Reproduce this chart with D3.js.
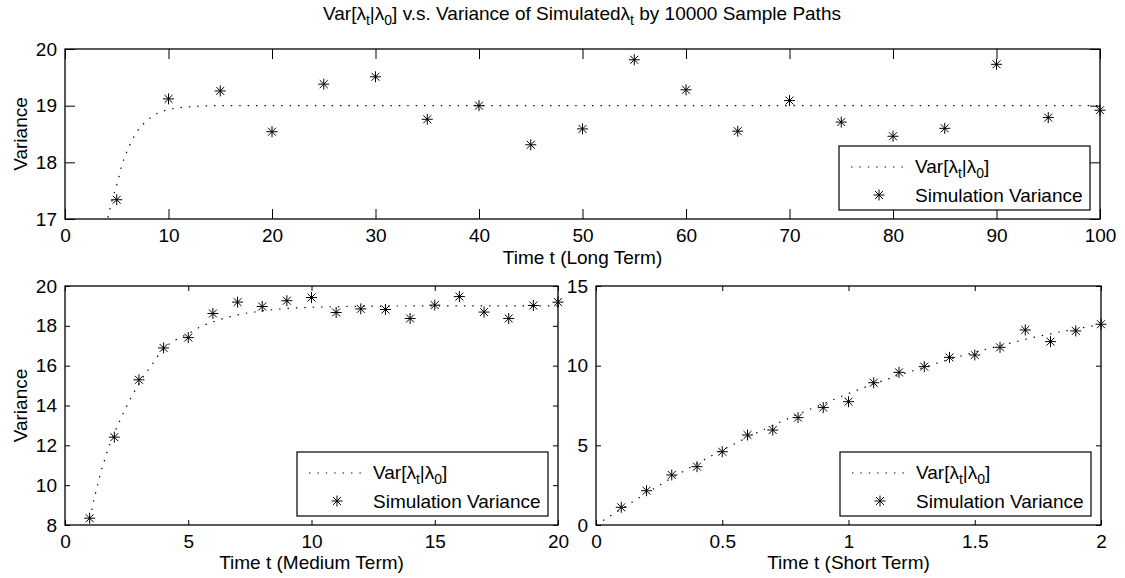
<!DOCTYPE html>
<html>
<head>
<meta charset="utf-8">
<script src="https://cdn.jsdelivr.net/npm/d3@7"></script>
<style>
  body { margin: 0; background: #fff; }
  text { font-family: "Liberation Sans", Arial, Helvetica, sans-serif; fill: #000; }
</style>
</head>
<body>
<div id="chart"></div>
<script>
// simulated variance (stars)
var longT = [5, 10, 15, 20, 25, 30, 35, 40, 45, 50, 55, 60, 65, 70, 75, 80, 85, 90, 95, 100];
var longSim = [17.34, 19.12, 19.26, 18.54, 19.38, 19.51, 18.76, 19.0, 18.31, 18.59,
               19.81, 19.28, 18.55, 19.09, 18.71, 18.46, 18.6, 19.73, 18.79, 18.92];

var midT = [1, 2, 3, 4, 5, 6, 7, 8, 9, 10, 11, 12, 13, 14, 15, 16, 17, 18, 19, 20];
var midSim = [8.34, 12.41, 15.29, 16.89, 17.41, 18.62, 19.19, 18.97, 19.26, 19.42,
              18.67, 18.85, 18.82, 18.37, 19.04, 19.47, 18.69, 18.37, 19.02, 19.19];

var shortT = [0.1, 0.2, 0.3, 0.4, 0.5, 0.6, 0.7, 0.8, 0.9, 1.0,
              1.1, 1.2, 1.3, 1.4, 1.5, 1.6, 1.7, 1.8, 1.9, 2.0];
var shortSim = [1.11, 2.15, 3.14, 3.66, 4.60, 5.65, 5.96, 6.74, 7.37, 7.74,
                8.93, 9.58, 9.94, 10.52, 10.67, 11.15, 12.24, 11.51, 12.18, 12.6];

// theoretical Var[lambda_t | lambda_0] (dotted curve)
var curveT = [0, 0.1, 0.2, 0.3, 0.4, 0.5, 0.6, 0.7, 0.8, 0.9, 1.0,
              1.1, 1.2, 1.3, 1.4, 1.5, 1.6, 1.7, 1.8, 1.9, 2.0,
              2.25, 2.5, 2.75, 3, 3.5, 4, 4.5, 5, 5.5, 6, 7, 8, 9, 10, 12, 15, 20, 100];
var curveV = [0, 1.0, 2.0, 2.95, 3.85, 4.7, 5.5, 6.25, 6.95, 7.6, 8.25,
              8.85, 9.4, 9.9, 10.4, 10.85, 11.25, 11.65, 12.0, 12.3, 12.6,
              13.3, 13.95, 14.55, 15.1, 16.0, 16.85, 17.3, 17.6, 17.95, 18.2, 18.55, 18.75, 18.87, 18.93, 18.98, 19.0, 19.0, 19.0];

var longXTicks = [0, 10, 20, 30, 40, 50, 60, 70, 80, 90, 100];
var longYTicks = [17, 18, 19, 20];
var midXTicks = [0, 5, 10, 15, 20];
var midYTicks = [8, 10, 12, 14, 16, 18, 20];
var shortXTicks = [0, 0.5, 1, 1.5, 2];
var shortYTicks = [0, 5, 10, 15];

var fontSize = 19;
var subSize = 14;

var svg = d3.select("#chart")
  .append("svg")
  .attr("width", 1125)
  .attr("height", 578);

svg.append("rect").attr("width", 1125).attr("height", 578).attr("fill", "#fff");

var curve = curveT.map(function(t, i) { return { t: t, v: curveV[i] }; });

// "Var[λt|λ0]" with subscripts
function varLabel(sel) {
  sel.append("tspan").text("Var[λ");
  sel.append("tspan").attr("font-size", subSize).attr("dy", 5).text("t");
  sel.append("tspan").attr("dy", -5).text("|λ");
  sel.append("tspan").attr("font-size", subSize).attr("dy", 5).text("0");
  sel.append("tspan").attr("dy", -5).text("]");
}

function star(r) {
  var d = r * 0.72;
  return "M" + (-r) + ",0L" + r + ",0M0," + (-r) + "L0," + r +
    "M" + (-d) + "," + (-d) + "L" + d + "," + d +
    "M" + (-d) + "," + d + "L" + d + "," + (-d);
}

function panel(opt) {
  var w = opt.x1 - opt.x0, h = opt.y1 - opt.y0;
  var g = svg.append("g").attr("transform", "translate(" + opt.x0 + "," + opt.y0 + ")");

  var x = d3.scaleLinear().domain(opt.xDomain).range([0, w]);
  var y = d3.scaleLinear().domain(opt.yDomain).range([h, 0]);

  g.append("rect").attr("width", w).attr("height", h).attr("fill", "#fff");

  var clipId = "clip" + opt.id;
  g.append("clipPath").attr("id", clipId)
    .append("rect").attr("width", w).attr("height", h);

  // axes, ticks pointing inside
  var tl = opt.tick;
  var bx = g.append("g").attr("transform", "translate(0," + h + ")")
    .call(d3.axisBottom(x).tickValues(opt.xTicks).tickFormat(function(d) { return d; })
      .tickSizeInner(-tl).tickSizeOuter(0).tickPadding(10));
  var tx = g.append("g")
    .call(d3.axisTop(x).tickValues(opt.xTicks).tickFormat("").tickSizeInner(-tl).tickSizeOuter(0));
  var ly = g.append("g")
    .call(d3.axisLeft(y).tickValues(opt.yTicks).tickFormat(function(d) { return d; })
      .tickSizeInner(-tl).tickSizeOuter(0).tickPadding(8));
  var ry = g.append("g").attr("transform", "translate(" + w + ",0)")
    .call(d3.axisRight(y).tickValues(opt.yTicks).tickFormat("").tickSizeInner(-tl).tickSizeOuter(0));

  [bx, tx, ly, ry].forEach(function(a) {
    a.select(".domain").remove();
    a.selectAll(".tick line").attr("stroke", "#000").attr("stroke-width", 1);
    a.selectAll(".tick text").attr("font-size", fontSize).attr("fill", "#000")
      .attr("font-family", "Liberation Sans, Arial, sans-serif");
  });

  // dotted theoretical curve
  var line = d3.line()
    .x(function(d) { return x(d.t); })
    .y(function(d) { return y(d.v); })
    .curve(d3.curveMonotoneX);

  g.append("path")
    .datum(curve.filter(function(d, i) {
      var prev = curve[i - 1], next = curve[i + 1];
      return (d.t >= opt.xDomain[0] && d.t <= opt.xDomain[1]) ||
        (next && next.t > opt.xDomain[0] && d.t < opt.xDomain[0]) ||
        (prev && prev.t < opt.xDomain[1] && d.t > opt.xDomain[1]);
    }))
    .attr("clip-path", "url(#" + clipId + ")")
    .attr("fill", "none")
    .attr("stroke", "#000")
    .attr("stroke-width", 1.2)
    .attr("stroke-dasharray", "1.4,7")
    .attr("d", line);

  // box
  g.append("rect").attr("width", w).attr("height", h)
    .attr("fill", "none").attr("stroke", "#000").attr("stroke-width", 1.3);

  // simulated points
  g.selectAll(".pt")
    .data(opt.t.map(function(t, i) { return { t: t, v: opt.sim[i] }; }))
    .enter()
    .append("path")
    .attr("class", "pt")
    .attr("transform", function(d) { return "translate(" + x(d.t) + "," + y(d.v) + ")"; })
    .attr("d", star(5.5))
    .attr("fill", "none")
    .attr("stroke", "#000")
    .attr("stroke-width", 1);

  // legend
  var lw = 251, lh = 64;
  var lg = g.append("g").attr("transform", "translate(" + (w - 10 - lw) + "," + (h - 9 - lh) + ")");
  lg.append("rect").attr("width", lw).attr("height", lh)
    .attr("fill", "#fff").attr("stroke", "#000").attr("stroke-width", 1.2);
  lg.append("line").attr("x1", 12).attr("x2", 64).attr("y1", 21).attr("y2", 21)
    .attr("stroke", "#000").attr("stroke-width", 1.2).attr("stroke-dasharray", "1.4,7");
  lg.append("text").attr("x", 76).attr("y", 27).attr("font-size", fontSize).call(varLabel);
  lg.append("path").attr("transform", "translate(40,49)").attr("d", star(5.5))
    .attr("fill", "none").attr("stroke", "#000").attr("stroke-width", 1);
  lg.append("text").attr("x", 76).attr("y", 56).attr("font-size", fontSize).text("Simulation Variance");

  // axis labels
  g.append("text")
    .attr("x", w / 2).attr("y", h + opt.xLabelDy)
    .attr("text-anchor", "middle").attr("font-size", fontSize)
    .text(opt.xLabel);
  if (opt.yLabel) {
    g.append("text")
      .attr("transform", "translate(" + (27 - opt.x0) + "," + (h / 2) + ") rotate(-90)")
      .attr("text-anchor", "middle").attr("font-size", fontSize)
      .text(opt.yLabel);
  }
}

panel({ id: 1, x0: 65, x1: 1100, y0: 49, y1: 219, tick: 10,
  xDomain: [0, 100], yDomain: [17, 20], xTicks: longXTicks, yTicks: longYTicks,
  t: longT, sim: longSim, xLabel: "Time t (Long Term)", yLabel: "Variance", xLabelDy: 45 });

panel({ id: 2, x0: 65, x1: 558, y0: 286, y1: 525, tick: 5,
  xDomain: [0, 20], yDomain: [8, 20], xTicks: midXTicks, yTicks: midYTicks,
  t: midT, sim: midSim, xLabel: "Time t (Medium Term)", yLabel: "Variance", xLabelDy: 44 });

panel({ id: 3, x0: 596, x1: 1101, y0: 286, y1: 525, tick: 5,
  xDomain: [0, 2], yDomain: [0, 15], xTicks: shortXTicks, yTicks: shortYTicks,
  t: shortT, sim: shortSim, xLabel: "Time t (Short Term)", yLabel: null, xLabelDy: 44 });

// title
var title = svg.append("text")
  .attr("x", 582).attr("y", 20)
  .attr("text-anchor", "middle")
  .attr("font-size", fontSize);
varLabel(title);
title.append("tspan").text(" v.s. Variance of Simulatedλ");
title.append("tspan").attr("font-size", subSize).attr("dy", 5).text("t");
title.append("tspan").attr("dy", -5).text(" by 10000 Sample Paths");
</script>
</body>
</html>
